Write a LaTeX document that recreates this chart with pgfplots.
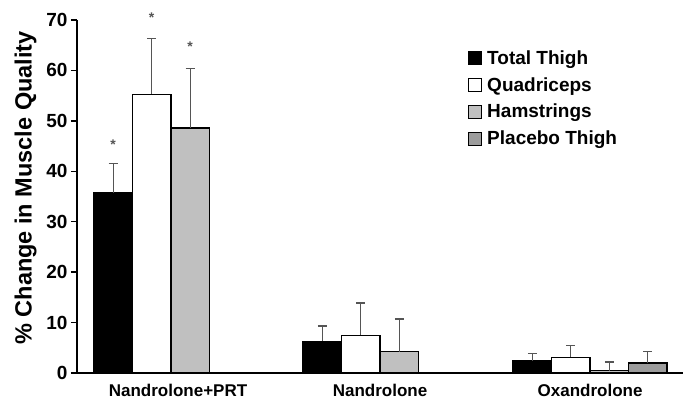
\documentclass[border=0pt]{standalone}
\usepackage{fontspec}
\setmainfont{Liberation Sans}
\usepackage{pgfplots}
\pgfplotsset{compat=1.18}
\definecolor{hamgray}{HTML}{C0C0C0}
\definecolor{plagray}{HTML}{9C9C9C}
\definecolor{errgray}{HTML}{555555}
\begin{document}
\begin{tikzpicture}
\begin{axis}[
    scale only axis,
    width=606pt, height=353pt,
    xmin=-0.5, xmax=2.5,
    ymin=0, ymax=70,
    ytick={0,10,...,70},
    xtick={0,1,2.04},
    xticklabels={Nandrolone+PRT, Nandrolone, Oxandrolone},
    extra x ticks={0.5,1.5,2.5},
    extra x tick labels={},
    extra x tick style={major tick length=6pt, tick style={line width=1.3pt}},
    major x tick style={draw=none},
    axis x line*=bottom, axis y line*=left,
    axis line style={line width=1.5pt},
    tick align=outside,
    major tick length=6pt,
    tick style={line width=1.3pt, black},
    ticklabel style={font=\fontsize{19}{20}\selectfont\bfseries},
    x tick label style={font=\fontsize{17}{18}\selectfont\bfseries, yshift=-2pt},
    /pgf/number format/assume math mode=true,
    ylabel={\% Change in Muscle Quality},
    every axis y label/.style={at={(axis description cs:-0.085,0.524)}, rotate=90, anchor=center,
        font=\fontsize{23.5}{24}\selectfont\bfseries},
    bar width=38.5pt,
    clip=false,
    legend style={draw=none, fill=none, at={(0.64,0.925)}, anchor=north west,
        font=\fontsize{19}{20}\selectfont\bfseries, row sep=7.5pt,
        nodes={inner sep=2pt}},
    legend cell align=left,
    legend image code/.code={\draw[#1, line width=1.2pt] (0pt,-6.5pt) rectangle (13pt,6.5pt);
        \path (16pt,0pt);},
    errplot/.style={forget plot, draw=none, mark=none,
        error bars/y dir=plus, error bars/y explicit,
        error bars/error bar style={errgray, line width=1.3pt},
        error bars/error mark options={errgray, line width=1.3pt, mark size=4.5pt, rotate=90}},
]
% bars
\addplot[ybar, bar shift=-57.75pt, fill=black, draw=black, line width=1.2pt]
  coordinates {(-0.035,35.7) (1,6.3) (2.04,2.4)};
\addlegendentry{Total Thigh}
\addplot[ybar, bar shift=-19.25pt, fill=white, draw=black, line width=1.2pt]
  coordinates {(-0.035,55.3) (1,7.5) (2.04,3.1)};
\addlegendentry{Quadriceps}
\addplot[ybar, bar shift=19.25pt, fill=hamgray, draw=black, line width=1.2pt]
  coordinates {(-0.035,48.6) (1,4.2) (2.04,0.45)};
\addlegendentry{Hamstrings}
\addplot[ybar, bar shift=57.75pt, fill=plagray, draw=black, line width=1.2pt]
  coordinates {(2.04,2.0)};
\addlegendentry{Placebo Thigh}
% error bars (upper only), at the bar centres
\addplot[errplot] coordinates {
  (-0.3208,35.7) +- (0,5.8)  (0.7142,6.3) +- (0,3.0)  (1.7542,2.4) +- (0,1.5)};
\addplot[errplot] coordinates {
  (-0.1303,55.3) +- (0,11.0) (0.9047,7.5) +- (0,6.4)  (1.9447,3.1) +- (0,2.3)};
\addplot[errplot] coordinates {
  (0.0603,48.6) +- (0,11.8)  (1.0953,4.2) +- (0,6.5)  (2.1353,0.45) +- (0,1.75)};
\addplot[errplot] coordinates {
  (2.3258,2.0) +- (0,2.2)};
% significance marks
\addplot[forget plot, draw=none, mark=none,
    nodes near coords={*},
    every node near coord/.append style={anchor=center, text=errgray,
        font=\fontsize{14}{14}\selectfont\bfseries}]
  coordinates {(-0.3208,45.3) (-0.1303,70.5) (0.0603,64.8)};
\end{axis}
\path ([xshift=8pt,yshift=20pt]current axis.north east);
\path ([xshift=-77pt,yshift=-31pt]current axis.south west);
\end{tikzpicture}
\end{document}
